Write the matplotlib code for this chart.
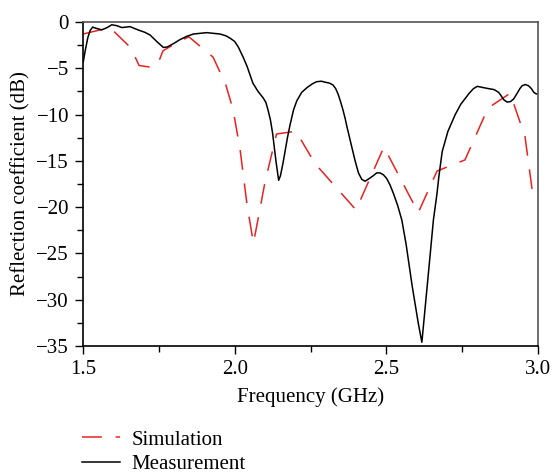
import numpy as np
import matplotlib
matplotlib.use("Agg")
import matplotlib.pyplot as plt
from matplotlib.ticker import MultipleLocator

plt.rcParams['font.family'] = ['Liberation Serif', 'DejaVu Serif']

# simulated reflection coefficient (GHz, dB)
sim_freq = [1.500, 1.589, 1.658, 1.685, 1.727, 1.746, 1.764, 1.817, 1.849,
            1.929, 1.971, 1.995, 2.018, 2.041, 2.062, 2.100, 2.138, 2.202,
            2.265, 2.400, 2.492, 2.605, 2.667, 2.759, 2.835, 2.908, 2.957,
            2.980, 3.000]
sim_db = [-1.3, -0.6, -2.8, -4.7, -4.9, -4.6, -3.1, -2.1, -1.6,
          -3.8, -6.8, -9.5, -13.8, -19.8, -23.9, -17.3, -12.1, -11.8,
          -15.3, -20.3, -13.5, -20.6, -16.1, -14.9, -9.3, -7.7, -12.4,
          -18.0, -18.9]

# measured reflection coefficient (GHz, dB)
meas_freq = [1.501, 1.508, 1.516, 1.524, 1.532, 1.545, 1.562, 1.580, 1.595,
             1.612, 1.628, 1.655, 1.682, 1.703, 1.721, 1.743, 1.765, 1.778,
             1.800, 1.820, 1.842, 1.864, 1.908, 1.952, 1.972, 1.985, 2.000,
             2.012, 2.028, 2.041, 2.060, 2.077, 2.094, 2.103, 2.110, 2.118,
             2.125, 2.136, 2.145, 2.151, 2.159, 2.166, 2.174, 2.182, 2.194,
             2.205, 2.221, 2.238, 2.255, 2.270, 2.286, 2.298, 2.312, 2.324,
             2.333, 2.341, 2.349, 2.357, 2.364, 2.370, 2.386, 2.397, 2.408,
             2.419, 2.430, 2.444, 2.457, 2.468, 2.479, 2.490, 2.501, 2.512,
             2.523, 2.537, 2.551, 2.565, 2.585, 2.605, 2.617, 2.628, 2.641,
             2.655, 2.667, 2.673, 2.684, 2.703, 2.727, 2.745, 2.759, 2.773,
             2.787, 2.800, 2.814, 2.837, 2.855, 2.870, 2.879, 2.887, 2.898,
             2.909, 2.920, 2.931, 2.940, 2.947, 2.958, 2.969, 2.978, 2.986,
             2.993, 3.000]
meas_db = [-4.3, -3.0, -1.7, -0.9, -0.55, -0.7, -0.85, -0.6, -0.3,
           -0.4, -0.6, -0.5, -0.86, -1.1, -1.4, -2.1, -2.75, -2.7,
           -2.3, -1.9, -1.55, -1.3, -1.15, -1.3, -1.5, -1.75, -2.1,
           -2.7, -3.8, -4.8, -6.6, -7.5, -8.2, -8.7, -9.5, -10.6,
           -12.0, -15.0, -17.1, -16.6, -15.3, -14.0, -12.5, -11.2, -9.5,
           -8.5, -7.6, -7.1, -6.7, -6.45, -6.4, -6.5, -6.6, -6.8,
           -7.2, -7.8, -8.6, -9.5, -10.4, -11.3, -13.5, -15.0, -16.3,
           -17.0, -17.2, -16.9, -16.6, -16.3, -16.3, -16.5, -16.9, -17.6,
           -18.5, -19.8, -21.4, -24.0, -28.5, -32.5, -34.6, -30.8, -26.3,
           -21.4, -18.5, -16.7, -14.0, -11.8, -10.0, -8.9, -8.3, -7.7,
           -7.2, -6.95, -7.05, -7.2, -7.3, -7.6, -8.0, -8.4, -8.65,
           -8.6, -8.3, -7.7, -7.2, -6.9, -6.75, -6.9, -7.2, -7.6,
           -7.75, -7.8]

fig = plt.figure(figsize=(5.53, 4.73), dpi=100)
ax = fig.add_axes([0.150, 0.2685, 0.823, 0.685])

ax.plot(sim_freq, sim_db, color='#e8231f', lw=1.1, dashes=(13, 9),
        label='Simulation')
ax.plot(meas_freq, meas_db, color='black', lw=1.1, label='Measurement')

ax.set_xlim(1.5, 3.0)
ax.set_ylim(-35, 0)
ax.xaxis.set_major_locator(MultipleLocator(0.5))
ax.xaxis.set_minor_locator(MultipleLocator(0.25))
ax.yaxis.set_major_locator(MultipleLocator(5))
ax.yaxis.set_minor_locator(MultipleLocator(2.5))
ax.xaxis.set_major_formatter(plt.FormatStrFormatter('%.1f'))
ax.tick_params(which='major', direction='out', length=6, width=1,
               labelsize=15, pad=4)
ax.tick_params(which='minor', direction='out', length=4, width=1)
ax.tick_params(top=False, right=False, which='both')
for s in ['top', 'right']:
    ax.spines[s].set_color('#555555')
for s in ax.spines.values():
    s.set_linewidth(1.2)

ax.set_xlabel('Frequency (GHz)', fontsize=15, labelpad=6)
ax.set_ylabel('Reflection coefficient (dB)', fontsize=15, labelpad=4)

fig.legend(loc='upper left', bbox_to_anchor=(0.148, 0.091), frameon=False,
           fontsize=15, handlelength=1.85, handletextpad=0.55,
           labelspacing=0.25, borderaxespad=0, borderpad=0)

fig.savefig('out.png', dpi=100)
